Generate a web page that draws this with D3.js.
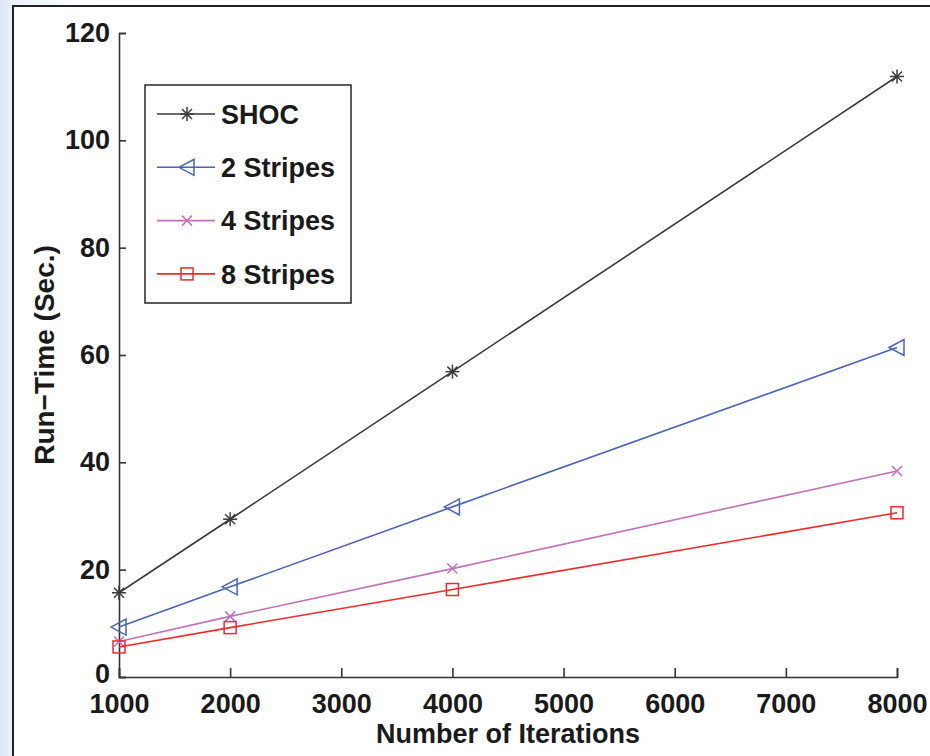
<!DOCTYPE html>
<html>
<head>
<meta charset="utf-8">
<script src="https://cdn.jsdelivr.net/npm/d3@7"></script>
<style>
  html, body { margin: 0; padding: 0; }
  body { width: 930px; height: 756px; overflow: hidden; }
  text { font-family: "Liberation Sans", Arial, sans-serif; font-weight: bold; fill: #1a1a1a; }
</style>
</head>
<body>
<div class="chart"></div>
<script>
// Values
const iterations = [1000, 2000, 4000, 8000];
const shoc = [15.7, 29.4, 56.9, 111.9];
const stripes2 = [9.3, 16.8, 31.7, 61.4];
const stripes4 = [6.6, 11.3, 20.2, 38.4];
const stripes8 = [5.6, 9.2, 16.3, 30.6];
const seriesNames = ["SHOC", "2 Stripes", "4 Stripes", "8 Stripes"];
const xTicks = [1000, 2000, 3000, 4000, 5000, 6000, 7000, 8000];
const yTicks = [0, 20, 40, 60, 80, 100, 120];

const width = 930;
const height = 756;
const margin = {left: 119, right: 33, top: 33, bottom: 79};
const fontSize = "27px";

const svg = d3.select("div.chart")
    .append("svg")
    .attr("width", width)
    .attr("height", height);

// pale blue page behind a white figure frame
const defs = svg.append("defs");
const grad = defs.append("linearGradient").attr("id", "bg")
    .attr("x1", 0).attr("x2", 1).attr("y1", 0).attr("y2", 0);
grad.append("stop").attr("offset", 0).attr("stop-color", "#dce8f6");
grad.append("stop").attr("offset", 0.015).attr("stop-color", "#ebf2fa");
grad.append("stop").attr("offset", 0.1).attr("stop-color", "#ffffff");
svg.append("rect").attr("width", width).attr("height", height).attr("fill", "url(#bg)");
svg.append("rect")
    .attr("x", 13).attr("y", 6)
    .attr("width", width).attr("height", height)
    .attr("fill", "#fff")
    .attr("stroke", "#222")
    .attr("stroke-width", 2);

const x = d3.scaleLinear().domain([1000, 8000]).range([margin.left, width - margin.right]);
const y = d3.scaleLinear().domain([0, 120]).range([height - margin.bottom, margin.top]);

// axes, MATLAB style with inward ticks
const xAxis = svg.append("g")
    .attr("transform", `translate(0,${y(0)})`)
    .call(d3.axisBottom(x).tickValues(xTicks).tickSize(-9).tickPadding(0).tickFormat(d3.format("d")));
xAxis.selectAll("text").attr("dy", "1.33em").style("font-size", fontSize);

const yAxis = svg.append("g")
    .attr("transform", `translate(${x(1000)},0)`)
    .call(d3.axisLeft(y).tickValues(yTicks).tickSize(-7).tickPadding(9));
yAxis.selectAll("text").style("font-size", fontSize);
// the 0 label sits a little higher so it clears 1000
yAxis.selectAll(".tick").filter(d => d === 0).select("text").attr("dy", "0.2em");

svg.selectAll(".domain").attr("stroke", "#333").attr("stroke-width", 1.6);
svg.selectAll(".tick line").attr("stroke", "#333").attr("stroke-width", 1.6);
svg.selectAll(".tick text").attr("fill", "#1a1a1a").attr("font-family", "Liberation Sans, Arial, sans-serif");

svg.append("text")
    .attr("x", (x(1000) + x(8000)) / 2)
    .attr("y", 743)
    .attr("text-anchor", "middle")
    .style("font-size", fontSize)
    .text("Number of Iterations");

svg.append("text")
    .attr("transform", `translate(54,${(y(0) + y(120)) / 2}) rotate(-90)`)
    .attr("text-anchor", "middle")
    .style("font-size", "28px")
    .text("Run\u2212Time (Sec.)");

// series
const series = [
    {name: seriesNames[0], values: shoc, color: "#3a3a3a", marker: "star"},
    {name: seriesNames[1], values: stripes2, color: "#4a63b4", marker: "tri"},
    {name: seriesNames[2], values: stripes4, color: "#c172b8", marker: "x"},
    {name: seriesNames[3], values: stripes8, color: "#ee2b2b", marker: "square"}
];

function drawMarker(g, type, color) {
    g.attr("fill", "none").attr("stroke", color).attr("stroke-width", 1.5);
    if (type === "star") {
        [[-7, 0, 7, 0], [0, -7, 0, 7], [-5, -5, 5, 5], [-5, 5, 5, -5]].forEach(s => {
            g.append("line").attr("x1", s[0]).attr("y1", s[1]).attr("x2", s[2]).attr("y2", s[3]);
        });
    } else if (type === "tri") {
        g.append("path").attr("d", "M-8,0L7,-8L7,8Z");
    } else if (type === "x") {
        g.append("path").attr("d", "M-5,-5L5,5M-5,5L5,-5");
    } else if (type === "square") {
        g.append("rect").attr("x", -6).attr("y", -6).attr("width", 12).attr("height", 12);
    }
}

const line = d3.line()
    .x((d, i) => x(iterations[i]))
    .y(d => y(d));

series.forEach(s => {
    svg.append("path")
        .datum(s.values)
        .attr("d", line)
        .attr("fill", "none")
        .attr("stroke", s.color)
        .attr("stroke-width", 1.6);
    s.values.forEach((v, i) => {
        const g = svg.append("g").attr("transform", `translate(${x(iterations[i])},${y(v)})`);
        drawMarker(g, s.marker, s.color);
    });
});

// legend
const legend = svg.append("g").attr("transform", "translate(145,85)");
legend.append("rect")
    .attr("width", 206).attr("height", 218)
    .attr("fill", "#fff").attr("stroke", "#333").attr("stroke-width", 1.6);
series.forEach((s, i) => {
    const row = legend.append("g").attr("transform", `translate(0,${29 + i * 53.3})`);
    row.append("line")
        .attr("x1", 12).attr("x2", 70)
        .attr("stroke", s.color).attr("stroke-width", 1.6);
    drawMarker(row.append("g").attr("transform", "translate(42,0)"), s.marker, s.color);
    row.append("text")
        .attr("x", 76).attr("dy", "0.36em")
        .style("font-size", fontSize)
        .text(s.name);
});
</script>
</body>
</html>
